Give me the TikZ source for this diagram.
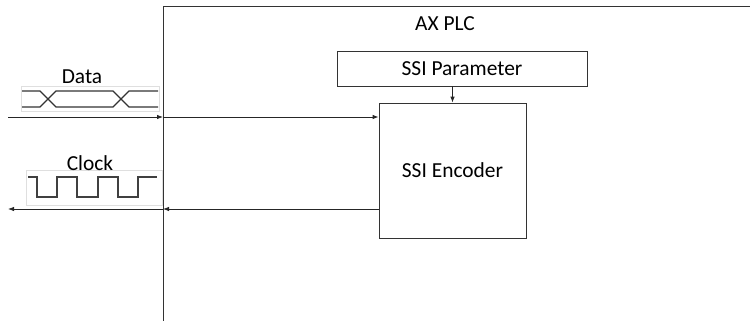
\documentclass[tikz,border=0pt]{standalone}
\usepackage{fontspec}
\setmainfont{Carlito}
\usetikzlibrary{arrows.meta, positioning}

\begin{document}
\begin{tikzpicture}[
    x=1bp, y=-1bp,
    line width=0.8pt,
    box/.style={rectangle, draw=black!80, font=\fontsize{21.5}{24}\selectfont, inner sep=0pt},
    lbl/.style={font=\fontsize{21.5}{24}\selectfont, inner sep=0pt},
    wave/.style={rectangle, draw=gray!25, line width=0.6pt, inner sep=0pt},
    sig/.style={draw=black!80, line width=1.4pt},
    clk/.style={draw=black!75, line width=1.1pt},
    arrow/.style={-{Latex[length=6bp, width=4.5bp]}, draw=black!85}
]
    \useasboundingbox (0,0) rectangle (750,320);
    \clip (0,0) rectangle (750,320);

    % --- Nodes ---
    \node[box, line width=1pt, minimum width=620bp, minimum height=340bp, anchor=north west] (plc) at (163,6) {};
    \node[lbl] (plcname) at (445,24) {AX PLC};
    \node[box, minimum width=250bp, minimum height=35bp] (param) at (462,68.5) {SSI Parameter};
    \node[box, minimum width=147bp, minimum height=135bp] (enc) at (452.5,170.5) {SSI Encoder};

    % Signal pictures
    \node[wave, minimum width=138bp, minimum height=25bp, anchor=north west] (datawave) at (21,86) {};
    \node[wave, minimum width=136bp, minimum height=35bp, anchor=north west] (clockwave) at (26,170) {};
    \node[lbl] (datalbl) at (82,77) {Data};
    \node[lbl] (clocklbl) at (90,163) {Clock};

    \draw[sig] (22,91) -- (40,91) -- (56,107) -- (113,107) -- (129,91) -- (158,91);
    \draw[sig] (22,107) -- (40,107) -- (56,91) -- (113,91) -- (129,107) -- (158,107);
    \draw[clk] (28,177) -| (37,197) -| (57,177) -| (77,197) -| (98,177) -| (118,197) -| (138,177) -- (157,177);

    % --- Connections ---
    \coordinate (datain) at (8,117);
    \coordinate (clkout) at (8,209);

    \draw[arrow] (datain) -- (datain -| plc.west);
    \draw[arrow] (datain -| plc.west) -- (datain -| enc.west);
    \draw[arrow] (enc.north |- param.south) -- (enc.north);
    \draw[arrow] (enc.west |- clkout) -- (clkout -| plc.west);
    \draw[arrow] (clkout -| plc.west) -- (clkout);

\end{tikzpicture}
\end{document}
